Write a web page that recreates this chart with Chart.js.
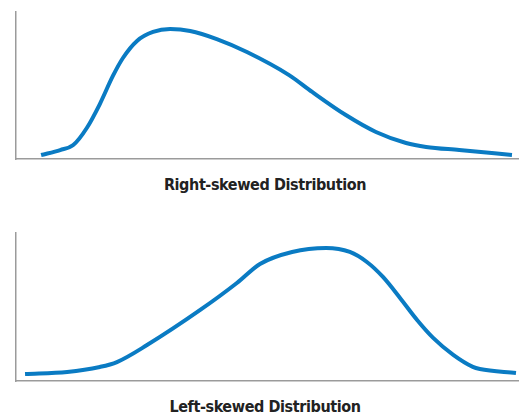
<!DOCTYPE html>
<html>
<head>
<meta charset="utf-8">
<script src="https://cdn.jsdelivr.net/npm/chart.js@4/dist/chart.umd.min.js"></script>
<style>
  html, body { margin: 0; padding: 0; background: #fff; }
  body { width: 519px; height: 416px; position: relative; overflow: hidden; }
  canvas { position: absolute; left: 0; }
  #c1 { top: 0; }
  #c2 { top: 221px; }
  .cap { position: absolute; left: 0; width: 530px; text-align: center;
         font-family: "Liberation Sans Narrow", "DejaVu Sans Condensed", "Liberation Sans", sans-serif;
         font-weight: bold; font-size: 16px; line-height: 16px; color: #222; letter-spacing: -0.4px; }
  #t1 { top: 177px; }
  #t2 { top: 399px; }
</style>
</head>
<body>
<canvas id="c1" width="519" height="170"></canvas>
<canvas id="c2" width="519" height="170"></canvas>
<div class="cap" id="t1">Right-skewed Distribution</div>
<div class="cap" id="t2">Left-skewed Distribution</div>
<script>
// Right-skewed curve (x: position along axis 0-100, y: density 0-100)
const rightX = [5.0, 8.8, 11.4, 14.1, 16.7, 19.3, 21.3, 24.1, 27.3, 30.7, 34.7, 40.0, 46.0, 54.4, 59.0, 65.7, 71.7, 77.7, 81.7, 88.3, 98.8];
const rightY = [2.7, 6.1, 9.5, 21.1, 37.4, 56.5, 68.7, 80.3, 86.4, 88.4, 87.1, 81.6, 72.8, 57.1, 45.6, 29.9, 18.4, 10.9, 8.2, 6.1, 2.7];
// Left-skewed curve
const leftX = [1.8, 10.2, 16.7, 20.1, 26.1, 36.7, 44.0, 48.6, 55.0, 61.8, 66.5, 69.9, 73.1, 76.5, 79.9, 83.1, 87.1, 91.0, 92.4, 99.6];
const leftY = [4.7, 6.1, 9.5, 12.8, 24.3, 48.0, 66.2, 79.1, 87.2, 89.9, 87.2, 80.4, 70.3, 56.1, 41.2, 29.1, 17.6, 9.5, 8.1, 5.4];

const LINE_COLOR = '#0a7bc3';
const AXIS_COLOR = '#9b9b9b';

function makeChart(id, xs, ys, pad) {
  const pts = xs.map((x, i) => ({ x: x, y: ys[i] }));
  return new Chart(document.getElementById(id), {
    type: 'line',
    data: { datasets: [{ data: pts, borderColor: LINE_COLOR, borderWidth: 4,
      pointRadius: 0, fill: false, cubicInterpolationMode: 'monotone', clip: false }] },
    options: {
      responsive: false, devicePixelRatio: 1, animation: false,
      layout: { padding: pad },
      plugins: { legend: { display: false }, tooltip: { enabled: false }, title: { display: false } },
      scales: {
        x: { type: 'linear', min: 0, max: 100,
             grid: { display: false, drawTicks: false },
             border: { display: true, color: AXIS_COLOR, width: 1.5 },
             ticks: { display: false } },
        y: { type: 'linear', min: 0, max: 100,
             grid: { display: false, drawTicks: false },
             border: { display: true, color: AXIS_COLOR, width: 1.5 },
             ticks: { display: false } }
      }
    }
  });
}

const c1 = makeChart('c1', rightX, rightY, { left: 16, top: 12, right: 1, bottom: 11 });
const c2 = makeChart('c2', leftX, leftY, { left: 16, top: 12, right: 1, bottom: 10 });
</script>
</body>
</html>
